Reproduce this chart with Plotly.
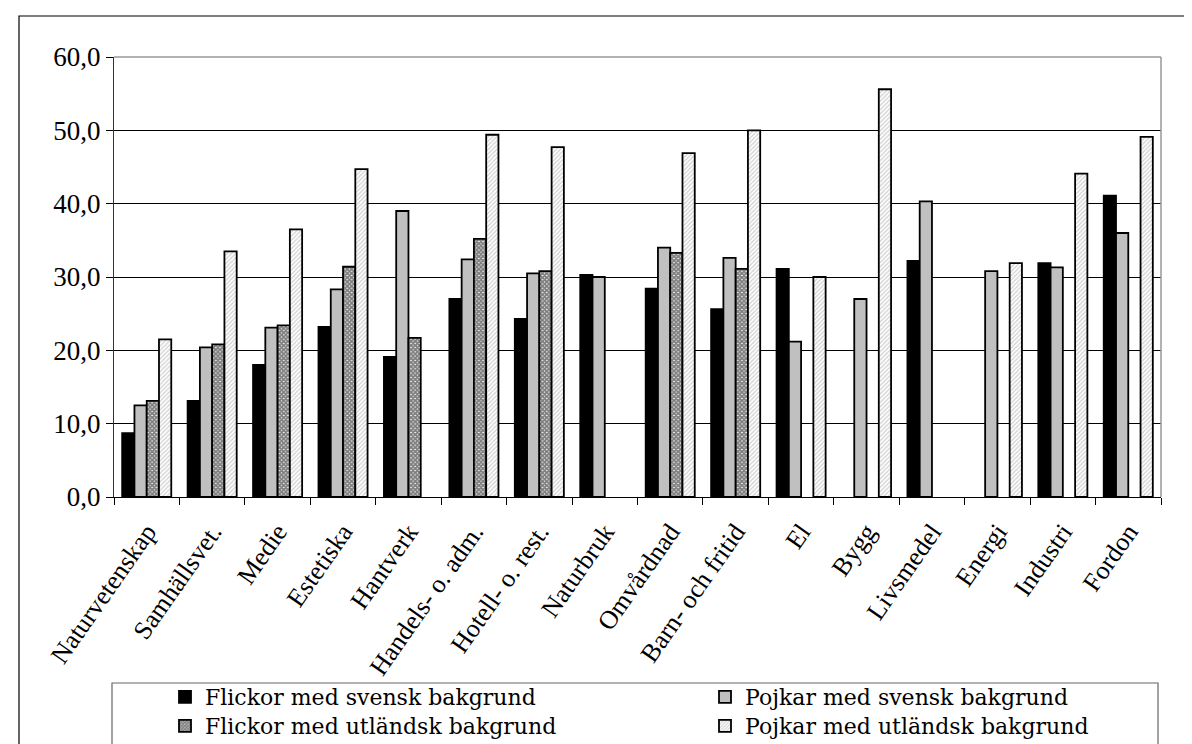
import plotly.graph_objects as go

categories = ["Naturvetenskap", "Samhällsvet.", "Medie", "Estetiska", "Hantverk",
              "Handels- o. adm.", "Hotell- o. rest.", "Naturbruk", "Omvårdnad",
              "Barn- och fritid", "El", "Bygg", "Livsmedel", "Energi", "Industri", "Fordon"]

flickor_svensk = [8.7, 13.1, 18.0, 23.2, 19.1, 27.0, 24.3, 30.3, 28.4, 25.6, 31.1, None, 32.2, None, 31.9, 41.1]
pojkar_svensk = [12.5, 20.4, 23.1, 28.3, 39.0, 32.4, 30.5, 30.0, 34.0, 32.6, 21.2, 27.0, 40.3, 30.8, 31.3, 36.0]
flickor_utl = [13.1, 20.8, 23.4, 31.4, 21.7, 35.2, 30.8, None, 33.3, 31.1, None, None, None, None, None, None]
pojkar_utl = [21.5, 33.5, 36.5, 44.7, None, 49.4, 47.7, None, 46.9, 50.0, 30.0, 55.6, None, 31.9, 44.1, 49.1]

series_names = ["Flickor med svensk bakgrund", "Pojkar med svensk bakgrund",
                "Flickor med utländsk bakgrund", "Pojkar med utländsk bakgrund"]

y_ticks = [0, 10, 20, 30, 40, 50, 60]

FONT = "Times New Roman, Liberation Serif, DejaVu Serif, serif"
LEGEND_FONT = "DejaVu Serif"
line = dict(color="#000000", width=1.8)

fig = go.Figure()
fig.add_trace(go.Bar(x=categories, y=flickor_svensk, name=series_names[0], legend="legend",
                     marker=dict(color="#000000", line=line)))
fig.add_trace(go.Bar(x=categories, y=pojkar_svensk, name=series_names[1], legend="legend2",
                     marker=dict(color="#c0c0c0", line=line)))
fig.add_trace(go.Bar(x=categories, y=flickor_utl, name=series_names[2], legend="legend3",
                     marker=dict(color="#ffffff", line=line,
                                 pattern=dict(shape="x", fgcolor="#000000", bgcolor="#ffffff",
                                              size=3, solidity=0.85))))
fig.add_trace(go.Bar(x=categories, y=pojkar_utl, name=series_names[3], legend="legend4",
                     marker=dict(color="#ffffff", line=line,
                                 pattern=dict(shape="/", fgcolor="#a8a8a8", bgcolor="#ffffff",
                                              size=3, solidity=0.45))))

L, R, T, B = 106, 39, 49, 255
W, H = 1192, 744
pw, ph = W - L - R, H - T - B

def px(x):
    return (x - L) / pw

def py(y):
    return (H - B - y) / ph

def legend_at(x, y):
    return dict(x=px(x), y=py(y), xanchor="left", yanchor="middle", orientation="v",
                bgcolor="rgba(0,0,0,0)", borderwidth=0,
                font=dict(family=LEGEND_FONT, size=22, color="#000000"))

fig.update_layout(
    width=W, height=H,
    margin=dict(l=L, r=R, t=T, b=B, autoexpand=False),
    paper_bgcolor="#ffffff", plot_bgcolor="#ffffff",
    barmode="group", bargap=0.25, bargroupgap=0.0,
    separators=", ",
    font=dict(family=FONT, color="#000000", size=26),
    showlegend=True,
    legend=legend_at(157, 689),
    legend2=legend_at(697, 689),
    legend3=legend_at(157, 718),
    legend4=legend_at(697, 718),
    xaxis=dict(type="category", tickangle=-55, tickson="boundaries", ticks="outside",
               ticklen=7, tickcolor="#000000", showline=True, linecolor="#000000", linewidth=1.2,
               ticklabelstandoff=8,
               tickfont=dict(family=FONT, size=26, color="#000000"), showgrid=False),
    yaxis=dict(range=[0, 60], tickvals=y_ticks, tickformat=".1f", ticks="outside", ticklen=7,
               tickcolor="#000000", showline=True, linecolor="#333333", linewidth=1.2,
               showgrid=True, gridcolor="#000000", gridwidth=1, zeroline=False,
               tickfont=dict(family=FONT, size=27, color="#000000")),
    shapes=[
        dict(type="line", xref="paper", yref="paper", x0=0, x1=1, y0=1, y1=1,
             line=dict(color="#999999", width=1.5), layer="above"),
        dict(type="line", xref="paper", yref="paper", x0=1, x1=1, y0=0, y1=1,
             line=dict(color="#999999", width=1.5), layer="above"),
        dict(type="rect", xref="paper", yref="paper", x0=px(104), x1=px(1150), y0=py(746), y1=py(675),
             line=dict(color="#666666", width=1.2), layer="above"),
        dict(type="rect", xref="paper", yref="paper", x0=px(11), x1=px(1181), y0=py(746), y1=py(8),
             line=dict(color="#000000", width=1.2), layer="above"),
    ],
)

fig.write_html("out.html")
